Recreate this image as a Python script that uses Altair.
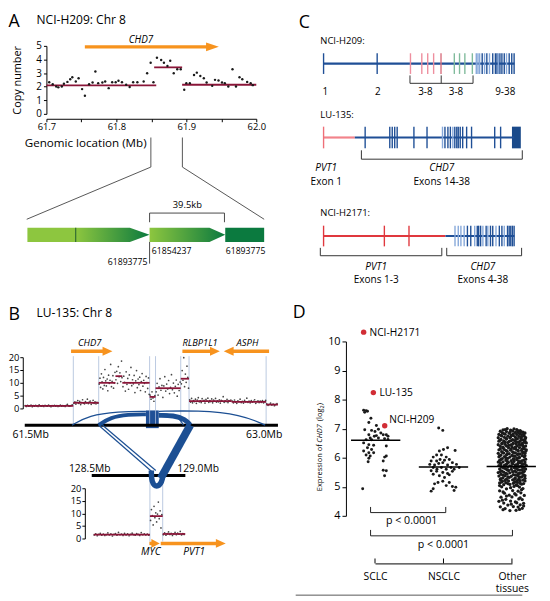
import altair as alt
import pandas as pd

FONT = "Open Sans"
W, H, M = 542, 593, 8
BLUE = "#1f4f96"
LBLUE = "#86a8da"
ORANGE = "#f7931e"
MAROON = "#8a1538"
RED = "#d12d35"
GUIDE = "#a9bcd9"
DOT = "#1a1a1a"

# ---------------- Panel A : NCI-H209 copy number ----------------
A_POINTS = [
    (61.704, 2.33), (61.709, 2.18), (61.714, 2.01), (61.717, 1.95), (61.722, 2.01),
    (61.725, 2.21), (61.730, 2.35), (61.734, 2.55), (61.737, 2.69), (61.742, 2.38),
    (61.746, 2.62), (61.751, 1.82), (61.755, 1.33), (61.761, 2.18), (61.766, 2.31),
    (61.770, 3.11), (61.774, 2.26), (61.780, 2.31), (61.784, 2.38), (61.789, 1.89),
    (61.794, 2.33), (61.799, 2.33), (61.803, 2.43), (61.808, 2.33), (61.814, 2.14),
    (61.819, 1.97), (61.824, 2.33), (61.830, 2.33), (61.839, 2.38), (61.844, 2.99),
    (61.849, 3.76), (61.853, 2.33), (61.858, 4.13), (61.864, 3.96), (61.868, 3.76),
    (61.873, 3.52), (61.877, 3.91), (61.882, 2.99), (61.887, 3.28), (61.892, 3.28),
    (61.897, 1.77), (61.900, 2.26), (61.905, 2.26), (61.911, 2.86), (61.915, 3.03),
    (61.920, 2.79), (61.925, 2.62), (61.929, 2.31), (61.937, 2.06), (61.941, 2.50),
    (61.946, 2.45), (61.951, 2.31), (61.955, 2.26), (61.960, 2.01), (61.966, 3.28),
    (61.971, 2.01), (61.976, 2.69), (61.980, 2.55), (61.987, 2.35), (61.992, 2.26),
    (61.995, 2.11),
]
A_SEGMENTS = [(61.700, 61.857, 2.09), (61.854, 61.894, 3.42), (61.894, 62.000, 2.14)]
A_XTICKS = [61.7, 61.75, 61.8, 61.85, 61.9, 61.95, 62.0]
A_YTICKS = [0, 1, 2, 3, 4, 5]

# ---------------- Panel B : LU-135 copy number ----------------
B_TOP_POINTS = [
    (61.490, 1.1), (61.498, 0.8), (61.505, 1.2), (61.512, 0.9), (61.520, 1.0), (61.527, 1.3),
    (61.535, 0.7), (61.541, 1.1), (61.549, 0.9), (61.556, 1.2), (61.563, 1.0), (61.571, 0.8),
    (61.578, 1.4), (61.585, 1.0), (61.593, 0.9), (61.600, 1.1), (61.607, 0.8), (61.615, 1.2),
    (61.622, 1.0), (61.630, 0.9), (61.637, 1.3), (61.644, 1.0), (61.652, 0.7), (61.659, 1.1),
    (61.667, 1.0), (61.674, 1.2), (61.681, 0.9), (61.689, 1.1), (61.696, 0.8), (61.704, 1.0),
    (61.711, 1.3), (61.718, 0.9), (61.726, 1.1), (61.733, 1.0), (61.741, 0.8), (61.748, 1.2),
    (61.755, 1.6), (61.763, 1.0), (61.770, 0.9), (61.778, 1.1), (61.785, 1.4),
    (61.796, 2.0), (61.802, 2.6), (61.808, 1.7), (61.814, 2.4), (61.820, 3.1), (61.826, 2.0),
    (61.832, 2.8), (61.838, 1.5), (61.844, 2.3), (61.850, 3.4), (61.856, 2.1), (61.862, 1.8),
    (61.868, 2.7), (61.874, 2.2), (61.880, 3.6), (61.886, 1.9), (61.892, 2.5), (61.898, 2.9),
    (61.904, 1.6), (61.910, 2.3), (61.916, 3.2), (61.922, 2.0), (61.928, 2.6), (61.934, 1.8),
    (61.940, 2.4), (61.946, 2.1),
    (61.954, 9.5), (61.959, 11.8), (61.963, 8.2), (61.968, 13.5), (61.972, 10.4), (61.977, 7.6),
    (61.981, 12.1), (61.986, 9.0), (61.990, 15.2), (61.995, 10.8), (61.999, 8.8), (62.004, 11.5),
    (62.008, 6.9), (62.013, 13.0), (62.017, 9.8), (62.022, 11.0), (62.026, 17.2), (62.031, 8.5),
    (62.035, 10.6), (62.040, 12.8), (62.044, 7.9), (62.049, 9.9), (62.053, 14.1),
    (62.059, 11.2), (62.064, 14.5), (62.069, 9.8), (62.074, 16.3), (62.079, 12.4), (62.084, 13.9),
    (62.089, 10.5), (62.094, 18.5), (62.097, 12.0),
    (62.103, 8.5), (62.108, 12.6), (62.113, 10.2), (62.118, 6.8), (62.123, 14.3), (62.128, 9.4),
    (62.133, 11.7), (62.138, 7.5), (62.143, 13.1), (62.148, 10.0), (62.153, 16.0), (62.158, 8.9),
    (62.163, 11.2), (62.168, 9.6), (62.173, 12.9), (62.178, 6.2), (62.183, 10.8), (62.188, 14.8),
    (62.193, 8.1), (62.198, 11.5), (62.203, 9.3), (62.208, 12.2), (62.213, 7.0), (62.218, 10.5),
    (62.223, 13.6), (62.228, 8.7), (62.233, 11.0), (62.238, 9.8), (62.243, 6.5), (62.248, 12.5),
    (62.253, 10.1), (62.258, 7.8), (62.263, 11.9), (62.267, 5.5),
    (62.273, 5.2), (62.279, 3.6), (62.285, 6.5), (62.291, 4.1), (62.297, 2.8), (62.303, 5.0),
    (62.311, 6.5), (62.317, 9.8), (62.323, 5.2), (62.329, 8.4), (62.335, 11.6), (62.341, 7.1),
    (62.347, 9.0), (62.353, 4.3), (62.359, 8.8), (62.365, 12.4), (62.371, 6.8), (62.377, 9.5),
    (62.383, 7.6), (62.389, 10.9), (62.395, 5.8), (62.401, 8.2), (62.407, 13.2), (62.413, 7.3),
    (62.419, 9.9), (62.425, 6.1), (62.431, 8.6), (62.437, 11.1), (62.443, 4.8), (62.449, 9.4),
    (62.455, 7.0), (62.461, 10.3),
    (62.469, 9.6), (62.474, 14.8), (62.479, 11.0), (62.484, 19.8), (62.489, 8.5), (62.494, 13.4),
    (62.499, 10.2), (62.504, 16.5), (62.509, 12.1), (62.514, 7.9),
    (62.521, 3.4), (62.527, 2.5), (62.533, 3.9), (62.539, 2.2), (62.545, 3.1), (62.551, 2.7),
    (62.557, 3.6), (62.563, 2.0), (62.569, 3.3), (62.575, 4.2), (62.581, 2.6), (62.587, 3.0),
    (62.593, 2.3), (62.599, 3.8), (62.605, 2.8), (62.611, 3.2), (62.617, 2.1), (62.623, 3.5),
    (62.629, 2.9), (62.635, 4.0), (62.641, 2.4), (62.647, 3.1), (62.653, 2.7), (62.659, 3.7),
    (62.665, 2.2), (62.671, 3.3), (62.677, 2.8), (62.683, 3.9), (62.689, 2.5), (62.695, 3.0),
    (62.701, 2.6), (62.707, 3.4), (62.713, 2.1), (62.719, 3.2), (62.725, 2.9), (62.731, 4.6),
    (62.737, 2.4), (62.743, 3.0), (62.749, 2.7), (62.755, 3.5), (62.761, 2.3), (62.767, 3.1),
    (62.773, 2.8), (62.779, 3.3),
    (62.788, 2.9), (62.795, 2.2), (62.802, 3.3), (62.809, 2.5), (62.816, 2.0), (62.823, 3.0),
    (62.830, 2.7), (62.837, 3.6), (62.844, 2.3), (62.851, 2.8), (62.858, 2.1), (62.865, 3.2),
    (62.872, 2.6), (62.879, 4.0), (62.886, 2.4), (62.893, 2.9), (62.900, 2.2), (62.907, 3.1),
    (62.914, 2.5), (62.921, 2.8), (62.928, 3.4), (62.935, 2.0), (62.942, 2.7), (62.949, 3.0),
    (62.956, 2.3), (62.963, 2.9), (62.970, 2.4), (62.977, 3.1), (62.984, 2.2), (62.991, 2.7),
    (62.997, 3.2),
    (63.004, 1.8), (63.012, 1.2), (63.020, 1.6), (63.028, 2.1), (63.036, 1.3), (63.044, 1.7),
    (63.052, 1.1), (63.060, 1.5), (63.068, 1.9),
]
B_TOP_SEGMENTS = [
    (61.488, 61.792, 1.0), (61.792, 61.951, 2.2), (61.951, 62.056, 10.0), (62.056, 62.099, 12.6),
    (62.099, 62.270, 10.0), (62.270, 62.307, 4.5), (62.307, 62.465, 7.9), (62.465, 62.517, 11.6),
    (62.517, 62.784, 2.9), (62.784, 63.000, 2.6), (63.000, 63.074, 1.5),
]
B_TOP_BREAKS = [61.792, 61.951, 62.270, 62.307, 62.465, 62.517, 63.000]

B_BOT_POINTS = [
    (128.525, 1.4), (128.532, 1.8), (128.539, 1.1), (128.546, 1.6), (128.553, 2.0), (128.560, 1.3),
    (128.567, 1.7), (128.574, 1.2), (128.581, 1.5), (128.588, 2.2), (128.595, 1.4), (128.602, 1.8),
    (128.609, 1.0), (128.616, 1.6), (128.623, 1.9), (128.630, 1.3), (128.637, 2.4), (128.644, 1.5),
    (128.651, 1.7), (128.658, 1.2), (128.665, 2.0), (128.672, 1.4), (128.679, 1.8), (128.686, 1.1),
    (128.693, 1.6), (128.700, 2.1), (128.707, 1.5), (128.714, 1.3), (128.721, 1.9), (128.728, 1.6),
    (128.735, 1.2), (128.742, 2.3), (128.749, 1.5), (128.756, 1.8), (128.763, 1.4), (128.770, 1.7),
    (128.777, 1.3),
    (128.785, 7.2), (128.789, 11.5), (128.793, 9.1), (128.797, 5.4), (128.801, 12.8), (128.805, 8.3),
    (128.809, 10.2), (128.813, 6.6), (128.817, 9.7), (128.821, 14.5), (128.825, 7.9), (128.829, 11.0),
    (128.833, 4.2), (128.837, 9.5),
    (128.844, 1.5), (128.850, 2.2), (128.856, 1.3), (128.862, 1.9), (128.868, 2.6), (128.874, 1.6),
    (128.880, 2.0), (128.886, 1.2), (128.892, 1.8), (128.898, 2.4), (128.904, 1.5), (128.910, 2.1),
    (128.916, 1.7), (128.922, 2.8), (128.928, 1.4), (128.934, 1.9), (128.940, 1.6),
]
B_BOT_SEGMENTS = [(128.523, 128.782, 1.5), (128.782, 128.841, 8.9), (128.841, 128.945, 1.8)]
B_BOT_BREAKS = [128.782, 128.841]
B_YTICKS = [0, 5, 10, 15, 20]

# ---------------- Panel C : exon structures (page x of each exon) ----------------
C_TRACK_Y = {"H209": (49.5, 70.5), "LU135": (124, 146), "H2171": (224.5, 245.5)}
C_EXONS = [
    ("H209", 328.3, BLUE), ("H209", 382.7, BLUE),
    ("H209", 416.5, "#ee8e9e"), ("H209", 428.0, "#ee8e9e"), ("H209", 434.0, "#ee8e9e"),
    ("H209", 440.0, "#ee8e9e"), ("H209", 447.5, "#d8707f"),
    ("H209", 461.0, "#80bb9c"), ("H209", 466.3, "#80bb9c"), ("H209", 471.7, "#80bb9c"),
    ("H209", 479.3, "#80bb9c"),
    ("H209", 483.3, LBLUE), ("H209", 485.0, LBLUE), ("H209", 486.7, LBLUE), ("H209", 489.3, BLUE),
    ("H209", 491.7, LBLUE), ("H209", 494.0, BLUE), ("H209", 496.7, LBLUE), ("H209", 500.0, BLUE),
    ("H209", 502.7, BLUE), ("H209", 504.3, BLUE), ("H209", 505.7, LBLUE), ("H209", 507.3, BLUE),
    ("H209", 509.3, BLUE), ("H209", 511.7, BLUE), ("H209", 514.0, LBLUE), ("H209", 516.7, BLUE),
    ("H209", 519.3, BLUE), ("H209", 521.7, BLUE),
    ("LU135", 328.3, "#ee6f78"),
    ("LU135", 370.5, BLUE), ("LU135", 395.5, BLUE), ("LU135", 398.0, BLUE), ("LU135", 400.5, BLUE),
    ("LU135", 403.0, BLUE), ("LU135", 420.0, BLUE), ("LU135", 433.3, BLUE), ("LU135", 449.0, LBLUE),
    ("LU135", 451.5, BLUE), ("LU135", 454.5, BLUE), ("LU135", 457.0, BLUE), ("LU135", 459.5, LBLUE),
    ("LU135", 461.5, BLUE), ("LU135", 463.5, BLUE), ("LU135", 465.0, BLUE), ("LU135", 467.0, BLUE),
    ("LU135", 469.5, BLUE), ("LU135", 473.5, BLUE), ("LU135", 478.5, BLUE), ("LU135", 502.0, BLUE),
    ("LU135", 508.0, BLUE),
    ("H2171", 328.3, "#e0383e"), ("H2171", 390.0, "#e0383e"), ("H2171", 415.0, "#e0383e"),
    ("H2171", 461.7, LBLUE), ("H2171", 465.0, LBLUE), ("H2171", 467.7, LBLUE), ("H2171", 471.0, LBLUE),
    ("H2171", 474.3, BLUE), ("H2171", 477.7, BLUE), ("H2171", 481.7, LBLUE), ("H2171", 484.3, BLUE),
    ("H2171", 485.7, BLUE), ("H2171", 487.7, BLUE), ("H2171", 490.0, LBLUE), ("H2171", 493.3, BLUE),
    ("H2171", 495.0, LBLUE), ("H2171", 497.7, BLUE), ("H2171", 500.0, BLUE), ("H2171", 503.3, LBLUE),
    ("H2171", 506.7, BLUE), ("H2171", 509.3, BLUE), ("H2171", 511.7, LBLUE), ("H2171", 515.0, BLUE),
    ("H2171", 516.7, BLUE), ("H2171", 518.3, BLUE), ("H2171", 520.0, BLUE), ("H2171", 521.7, BLUE),
]

# ---------------- Panel D : CHD7 expression ----------------
D_GROUPS = ["SCLC", "NSCLC", "Other tissues"]
D_SCLC = [
    (-0.166, 7.63), (-0.13, 7.62), (-0.15, 7.56), (-0.11, 7.60), (-0.06, 7.36), (-0.09, 7.21),
    (0.02, 7.11), (-0.15, 6.96), (-0.05, 6.94), (0.0, 6.90), (0.05, 6.98), (0.085, 6.85),
    (0.12, 6.79), (0.165, 6.79), (0.19, 6.74), (-0.09, 6.79), (-0.07, 6.68), (-0.01, 6.74),
    (0.02, 6.76), (0.05, 6.68), (-0.13, 6.62), (-0.05, 6.62), (0.14, 6.65), (0.19, 6.63),
    (-0.166, 6.51), (-0.09, 6.45), (-0.02, 6.43), (-0.11, 6.34), (-0.05, 6.28), (0.165, 6.40),
    (-0.166, 6.23), (-0.09, 6.17), (-0.02, 6.17), (-0.13, 6.09), (-0.07, 6.06), (-0.09, 5.98),
    (-0.10, 5.86), (0.14, 6.02), (0.165, 6.06), (0.12, 5.89), (0.12, 5.57), (0.165, 5.55),
    (0.14, 5.38), (-0.18, 4.93),
]
D_NSCLC = [
    (-0.07, 7.02), (-0.01, 6.94), (0.06, 6.34), (0.0, 6.28), (-0.06, 6.23), (0.17, 6.25),
    (-0.10, 6.09), (-0.03, 6.09), (0.04, 6.02), (-0.15, 6.02), (-0.18, 5.89), (-0.10, 5.89),
    (-0.05, 5.94), (0.015, 5.91), (0.085, 5.94), (-0.20, 5.77), (-0.13, 5.75), (-0.07, 5.80),
    (-0.01, 5.83), (0.06, 5.75), (0.13, 5.83), (0.19, 5.77), (-0.15, 5.66), (-0.095, 5.60),
    (-0.03, 5.66), (0.04, 5.60), (0.11, 5.66), (0.155, 5.60), (0.23, 5.66), (-0.18, 5.55),
    (-0.10, 5.53), (-0.01, 5.49), (0.06, 5.46), (0.13, 5.53), (-0.15, 5.43), (-0.06, 5.38),
    (0.085, 5.41), (0.015, 5.32), (-0.08, 5.15), (-0.01, 5.19), (0.085, 5.15), (-0.13, 5.10),
    (0.04, 5.04), (0.13, 5.01), (-0.15, 4.93), (-0.18, 4.85), (0.155, 4.87), (0.18, 4.98),
]
D_OTHER = [
    (-0.07, 7.00), (0.03, 6.99), (-0.13, 6.96), (-0.02, 6.95), (0.07, 6.97), (0.12, 6.93),
    (-0.17, 6.91), (-0.08, 6.90), (0.01, 6.92), (0.09, 6.89), (0.16, 6.88),
    (-0.14, 6.86), (-0.04, 6.84), (0.05, 6.87), (0.11, 6.83), (0.19, 6.85),
    (-0.19, 6.80), (-0.10, 6.81), (-0.01, 6.78), (0.07, 6.80), (0.14, 6.79),
    (-0.15, 6.75), (-0.06, 6.74), (0.02, 6.76), (0.10, 6.73), (0.18, 6.74),
    (-0.20, 6.69), (-0.11, 6.70), (-0.03, 6.68), (0.05, 6.71), (0.13, 6.67), (0.20, 6.69),
    (-0.16, 6.63), (-0.08, 6.64), (0.01, 6.62), (0.08, 6.65), (0.16, 6.61),
    (-0.19, 6.57), (-0.12, 6.58), (-0.04, 6.56), (0.04, 6.59), (0.11, 6.55), (0.19, 6.57),
    (-0.14, 6.51), (-0.06, 6.52), (0.02, 6.50), (0.09, 6.53), (0.15, 6.49), (0.21, 6.51),
    (-0.20, 6.45), (-0.10, 6.46), (-0.02, 6.44), (0.06, 6.47), (0.13, 6.43),
    (-0.17, 6.39), (-0.08, 6.40), (0.00, 6.38), (0.08, 6.41), (0.17, 6.37), (0.20, 6.40),
    (-0.13, 6.33), (-0.05, 6.34), (0.03, 6.32), (0.11, 6.35), (0.18, 6.31),
    (-0.19, 6.27), (-0.11, 6.28), (-0.02, 6.26), (0.06, 6.29), (0.14, 6.25), (0.21, 6.27),
    (-0.15, 6.21), (-0.07, 6.22), (0.01, 6.20), (0.09, 6.23), (0.16, 6.19),
    (-0.20, 6.15), (-0.12, 6.16), (-0.04, 6.14), (0.05, 6.17), (0.12, 6.13), (0.19, 6.15),
    (-0.16, 6.09), (-0.08, 6.10), (0.00, 6.08), (0.08, 6.11), (0.15, 6.07),
    (-0.19, 6.03), (-0.11, 6.04), (-0.03, 6.02), (0.04, 6.05), (0.11, 6.01), (0.18, 6.03),
    (-0.14, 5.97), (-0.06, 5.98), (0.02, 5.96), (0.10, 5.99), (0.20, 5.95),
    (-0.18, 5.91), (-0.09, 5.92), (-0.01, 5.90), (0.07, 5.93), (0.14, 5.89),
    (-0.20, 5.85), (-0.13, 5.86), (-0.05, 5.84), (0.03, 5.87), (0.12, 5.83), (0.19, 5.85),
    (-0.16, 5.79), (-0.07, 5.80), (0.01, 5.78), (0.09, 5.81), (0.16, 5.77),
    (-0.19, 5.73), (-0.11, 5.74), (-0.03, 5.72), (0.05, 5.75), (0.13, 5.71), (0.21, 5.73),
    (-0.14, 5.67), (-0.06, 5.68), (0.03, 5.66), (0.10, 5.69), (0.17, 5.65),
    (-0.18, 5.61), (-0.09, 5.62), (-0.01, 5.60), (0.07, 5.63), (0.15, 5.59), (0.20, 5.61),
    (-0.15, 5.55), (-0.05, 5.56), (0.04, 5.54), (0.12, 5.57), (0.18, 5.53),
    (-0.20, 5.49), (-0.12, 5.50), (-0.03, 5.48), (0.06, 5.51), (0.14, 5.47),
    (-0.16, 5.43), (-0.07, 5.44), (0.02, 5.42), (0.09, 5.45), (0.17, 5.41),
    (-0.19, 5.37), (-0.10, 5.38), (-0.01, 5.36), (0.08, 5.39), (0.15, 5.35),
    (-0.13, 5.31), (-0.04, 5.32), (0.05, 5.30), (0.13, 5.33), (0.19, 5.29),
    (-0.17, 5.25), (-0.08, 5.26), (0.01, 5.24), (0.10, 5.27), (0.16, 5.23),
    (-0.14, 5.19), (-0.05, 5.20), (0.04, 5.18), (0.12, 5.21),
    (-0.18, 5.13), (-0.09, 5.14), (0.02, 5.12), (0.08, 5.15), (0.17, 5.11),
    (-0.12, 5.07), (-0.03, 5.08), (0.06, 5.06), (0.14, 5.09),
    (-0.15, 5.00), (0.03, 5.01), (0.11, 4.99), (-0.08, 4.93), (0.16, 4.94),
    (-0.18, 4.86), (0.01, 4.87), (0.09, 4.85), (-0.11, 4.78), (0.13, 4.79),
    (-0.04, 4.71), (0.06, 4.72), (0.18, 4.70), (-0.16, 4.64), (0.00, 4.65),
    (-0.09, 4.57), (0.10, 4.58), (0.15, 4.56), (-0.19, 4.50), (-0.02, 4.51),
    (-0.12, 4.44), (0.07, 4.45), (0.17, 4.43), (-0.06, 4.37), (0.12, 4.38),
    (-0.17, 4.31), (0.02, 4.32), (0.09, 4.30), (-0.10, 4.25), (0.15, 4.26),
    (-0.03, 4.18), (0.06, 4.19),
    (-0.10, 6.97), (0.08, 6.94), (-0.03, 6.88), (0.13, 6.90), (-0.12, 6.83), (0.02, 6.82),
    (0.17, 6.81), (-0.16, 6.77), (-0.02, 6.72), (0.14, 6.72), (-0.08, 6.66), (0.06, 6.66),
    (0.19, 6.63), (-0.18, 6.60), (-0.01, 6.59), (0.13, 6.60), (-0.10, 6.54), (0.06, 6.55),
    (0.18, 6.53), (-0.15, 6.48), (0.01, 6.47), (0.11, 6.46), (-0.05, 6.42), (0.16, 6.42),
    (-0.13, 6.36), (0.05, 6.36), (-0.17, 6.30), (-0.01, 6.30), (0.15, 6.30), (-0.08, 6.24),
    (0.09, 6.25), (0.20, 6.22), (-0.14, 6.18), (0.02, 6.18), (0.16, 6.16), (-0.07, 6.12),
    (0.10, 6.12), (-0.18, 6.06), (0.02, 6.06), (0.19, 6.07), (-0.09, 6.00), (0.07, 5.99),
    (-0.16, 5.94), (0.03, 5.94), (0.17, 5.92), (-0.07, 5.88), (0.10, 5.87), (-0.17, 5.82),
    (0.00, 5.82), (0.15, 5.80), (-0.09, 5.76), (0.08, 5.76), (0.19, 5.78), (-0.16, 5.70),
    (-0.01, 5.70), (0.15, 5.68), (-0.11, 5.64), (0.05, 5.64), (0.18, 5.64), (-0.07, 5.58),
    (0.09, 5.58), (-0.17, 5.52), (0.01, 5.52), (0.16, 5.50), (-0.09, 5.46), (0.11, 5.46),
    (-0.13, 5.40), (0.05, 5.40), (0.19, 5.38), (-0.06, 5.34), (0.10, 5.35), (-0.16, 5.28),
    (0.04, 5.28), (-0.10, 5.22), (0.08, 5.22), (0.19, 5.20), (-0.15, 5.16), (0.05, 5.16),
    (-0.06, 5.11), (0.12, 5.12), (-0.18, 5.04), (0.08, 5.04), (-0.02, 4.97), (0.14, 4.90),
    (-0.13, 4.82), (0.04, 4.76), (-0.08, 4.68), (0.12, 4.62), (-0.14, 4.54), (0.05, 4.48),
    (-0.01, 4.40), (0.17, 4.34), (-0.13, 4.21), (0.11, 4.22),
]
D_MEDIANS = [(-0.35, 0.37, 6.60), (0.64, 1.36, 5.68), (1.63, 2.35, 5.70)]
D_HIGHLIGHT = [("NCI-H2171", -0.166, 10.32), ("LU-135", -0.024, 8.24), ("NCI-H209", 0.142, 7.10)]
D_YTICKS = [4, 5, 6, 7, 8, 9, 10]

# ---------------- Figure-level drawing (page pixel layout) ----------------
FIG_RULES = [  # x, y, x2, y2, colour, width
    (153, 135, 153, 165, "#555", 1), (153, 165, 27, 218, "#555", 1),
    (185, 135, 185, 165, "#555", 1), (185, 165, 268, 218, "#555", 1),
    (151.7, 211.7, 227.7, 211.7, "#333", 0.9), (151.7, 211.7, 151.7, 221, "#333", 0.9),
    (227.7, 211.7, 227.7, 221, "#333", 0.9), (151.7, 241, 151.7, 263, "#333", 0.9),
    (76.7, 226.7, 76.7, 241, "#2e6b2e", 1.2),
    (25, 427, 282, 427, "black", 3), (93, 478, 188, 478, "black", 3),
    (86, 43, 211, 43, ORANGE, 3.5), (72, 352, 105, 352, ORANGE, 3.5),
    (185, 352, 214, 352, ORANGE, 3.5), (236, 352, 273, 352, ORANGE, 3.5),
    (151.5, 547, 154.5, 547, ORANGE, 3.5), (163, 547, 220, 547, ORANGE, 3.5),
    (328, 60, 522, 60, BLUE, 2.2),
    (328, 135, 360, 135, "#f2838b", 2.2), (360, 135, 522, 135, BLUE, 2.2),
    (328, 235, 452, 235, "#e0383e", 2.2), (452, 235, 522, 235, BLUE, 2.2),
    (416, 80, 480, 80, "#333", 1), (416, 72, 416, 80, "#333", 1),
    (447.7, 72, 447.7, 80, "#333", 1), (480, 72, 480, 80, "#333", 1),
    (366.7, 157, 530, 157, "#333", 1), (366.7, 148, 366.7, 157, "#333", 1), (530, 148, 530, 157, "#333", 1),
    (325, 255, 448.3, 255, "#333", 1), (325, 247, 325, 255, "#333", 1), (448.3, 247, 448.3, 255, "#333", 1),
    (453.3, 255, 529.3, 255, "#333", 1), (453.3, 247, 453.3, 255, "#333", 1), (529.3, 247, 529.3, 255, "#333", 1),
    (376, 515.7, 452.3, 515.7, "#222", 1), (376, 510, 376, 515.7, "#222", 1), (452.3, 510, 452.3, 515.7, "#222", 1),
    (376, 539.3, 520, 539.3, "#222", 1), (376, 533.3, 376, 539.3, "#222", 1), (520, 533.3, 520, 539.3, "#222", 1),
    (380.5, 562.3, 380.5, 567.3, "black", 1), (450, 562.3, 450, 567.3, "black", 1),
    (519.5, 562.3, 519.5, 567.3, "black", 1),
    (300, 599.5, 530, 599.5, "#555", 1),
]
FIG_RECTS = [  # x, y, x2, y2, colour
    (27.7, 226.7, 76.7, 241, "#8dc63f"), (228.5, 226.7, 268, 241, "#0b7a3f"),
    (148, 412, 161, 430, BLUE), (519.5, 124, 528.5, 146, "#1a4a8a"),
]
GREEN_ARROWS = [  # id, x, top, bottom
    ("g1", 76.7, 226.7, 241), ("g1", 131.7, 226.7, 241), ("g1", 151.7, 233.8, 233.8),
    ("g2", 151.7, 226.7, 241), ("g2", 212.5, 226.7, 241), ("g2", 228.5, 233.8, 233.8),
]
ORANGE_HEADS = [
    ("a", 209, 38.5, 47.5), ("a", 222, 43, 43),
    ("b1", 104, 347.5, 356.5), ("b1", 114, 352, 352),
    ("b2", 213, 347.5, 356.5), ("b2", 223, 352, 352),
    ("b3", 227, 352, 352), ("b3", 237, 347.5, 356.5),
    ("b4", 153.5, 542.5, 551.5), ("b4", 162, 547, 547),
    ("b5", 219, 542.5, 551.5), ("b5", 229, 547, 547),
]
ARCS = [  # id, width, [(x, y) ...]
    ("thinL", 1.3, [(73, 427), (90, 417), (120, 413), (148, 413)]),
    ("thickL", 4.0, [(100, 427), (112, 419), (130, 416), (148, 416)]),
    ("thinR", 1.3, [(161, 413), (200, 412), (245, 416), (269, 427)]),
    ("thickR", 5.0, [(161, 417), (176, 417), (188, 421), (193, 427)]),
    ("thinR2", 1.2, [(161, 415), (174, 416), (183, 421), (186, 427)]),
    ("down1", 1.2, [(100, 427), (155, 475)]),
    ("down2", 1.2, [(104, 427), (158, 473)]),
    ("down3", 8.0, [(193, 427), (163, 481)]),
    ("loop", 5.5, [(153.5, 473), (153.5, 485), (159, 490.5), (164.5, 485), (165, 477)]),
]
TEXTS = [  # x, y, text, size, align, italic, angle
    (8.5, 18, "A", 18, "left", False, 0),
    (37, 16, "NCI-H209: Chr 8", 12.2, "left", False, 0),
    (143, 36.5, "CHD7", 10, "center", True, 0),
    (18, 77, "Copy number", 11, "center", False, 270),
    (25, 141, "Genomic location (Mb)", 11.8, "left", False, 0),
    (190, 203.5, "39.5kb", 9.5, "center", False, 0),
    (154, 250, "61854237", 8.8, "left", False, 0),
    (229, 250, "61893775", 8.8, "left", False, 0),
    (149.5, 261.7, "61893775", 8.8, "right", False, 0),
    (8.5, 315, "B", 18, "left", False, 0),
    (37, 313.5, "LU-135: Chr 8", 12.2, "left", False, 0),
    (91, 343.5, "CHD7", 9.6, "center", True, 0),
    (203, 343.5, "RLBP1L1", 9.4, "center", True, 0),
    (251, 343.5, "ASPH", 9.6, "center", True, 0),
    (31, 436.7, "61.5Mb", 10.6, "center", False, 0),
    (268, 436.7, "63.0Mb", 10.6, "center", False, 0),
    (91, 471.5, "128.5Mb", 10.4, "center", False, 0),
    (201, 471.5, "129.0Mb", 10.4, "center", False, 0),
    (153, 556, "MYC", 10.3, "center", True, 0),
    (197, 556, "PVT1", 10.3, "center", True, 0),
    (303, 19, "C", 18, "left", False, 0),
    (325, 37.5, "NCI-H209:", 9.6, "left", False, 0),
    (330, 88.7, "1", 10, "center", False, 0),
    (383.3, 88.7, "2", 10, "center", False, 0),
    (431.7, 88.7, "3-8", 10, "center", False, 0),
    (462.7, 88.7, "3-8", 10, "center", False, 0),
    (512.7, 88.7, "9-38", 10, "center", False, 0),
    (325, 112, "LU-135:", 9.6, "left", False, 0),
    (331, 166.5, "PVT1", 10.2, "center", True, 0),
    (331, 180, "Exon 1", 10.2, "center", False, 0),
    (448.3, 166.5, "CHD7", 10.2, "center", True, 0),
    (448.3, 180, "Exons 14-38", 10.2, "center", False, 0),
    (325, 211.7, "NCI-H2171:", 9.6, "left", False, 0),
    (381.7, 266, "PVT1", 10.2, "center", True, 0),
    (381.7, 279.5, "Exons 1-3", 10.2, "center", False, 0),
    (490, 266, "CHD7", 10.2, "center", True, 0),
    (490, 279.5, "Exons 4-38", 10.2, "center", False, 0),
    (297, 313, "D", 18, "left", False, 0),
    (375, 333, "NCI-H2171", 10.3, "left", False, 0),
    (385, 394, "LU-135", 10.3, "left", False, 0),
    (395, 421.5, "NCI-H209", 10.3, "left", False, 0),
    (417.7, 524, "p < 0.0001", 10.8, "center", False, 0),
    (450, 548.5, "p < 0.0001", 10.8, "center", False, 0),
    (325, 494, "Expression of", 7.6, "left", False, 270),
    (325, 444.8, "CHD7", 7.6, "left", True, 270),
    (325, 422.9, "(log", 7.6, "left", False, 270),
    (327.2, 410.0, "2", 5.6, "left", False, 270),
    (325, 406.8, ")", 7.6, "left", False, 270),
]


def sc(domain, p0, p1):
    return alt.Scale(domain=domain, range=[p0 - M, p1 - M], nice=False, zero=False)


FX, FY = sc([0, 550], 0, 550), sc([0, 601], 0, 601)
AX = dict(labelFont=FONT, domainColor="black", tickColor="black", labelColor="black",
          grid=False, title=None, labelOverlap=False, labelFlush=False, labelBound=False,
          domainWidth=1, tickWidth=1)


def fx(f):
    return alt.X(f, scale=FX, axis=None)


def fy(f):
    return alt.Y(f, scale=FY, axis=None)


layers = []

# ---- background drawing ----
layers.append(alt.Chart(pd.DataFrame(FIG_RECTS, columns=["x", "y", "x2", "y2", "c"])).mark_rect().encode(
    x=fx("x:Q"), y=fy("y:Q"), x2="x2:Q", y2="y2:Q", color=alt.Color("c:N", scale=None)))
layers.append(alt.Chart(pd.DataFrame(GREEN_ARROWS, columns=["id", "x", "y", "y2"])).mark_area(
    color=alt.LinearGradient(gradient="linear", x1=0, x2=1, y1=0, y2=0,
                             stops=[alt.GradientStop(color="#8dc63f", offset=0),
                                    alt.GradientStop(color="#0b7a3f", offset=1)])).encode(
    x=fx("x:Q"), y=fy("y:Q"), y2="y2:Q", detail="id:N"))
layers.append(alt.Chart(pd.DataFrame(ORANGE_HEADS, columns=["id", "x", "y", "y2"])).mark_area(
    color=ORANGE).encode(x=fx("x:Q"), y=fy("y:Q"), y2="y2:Q", detail="id:N"))

# ---- Panel B top ----
bx, by = sc([61.5, 63.0], 27, 270), sc([0, 20], 410, 358)
layers.append(alt.Chart(pd.DataFrame({"x": B_TOP_BREAKS, "y": 20.4, "y2": -6.2})).mark_rule(
    color=GUIDE, strokeWidth=0.8).encode(
    x=alt.X("x:Q", scale=bx, axis=None), y=alt.Y("y:Q", scale=by, axis=None), y2="y2:Q"))
layers.append(alt.Chart(pd.DataFrame(B_TOP_POINTS, columns=["mb", "cn"])).mark_circle(
    size=3, color="#333", opacity=0.9).encode(
    x=alt.X("mb:Q", scale=bx, axis=None),
    y=alt.Y("cn:Q", scale=by, axis=alt.Axis(
        orient="left", offset=-(23 - M), values=B_YTICKS, tickSize=3, labelFontSize=9.5,
        labelPadding=1, **AX))))
layers.append(alt.Chart(pd.DataFrame(B_TOP_SEGMENTS, columns=["x0", "x1", "cn"])).mark_rule(
    color=MAROON, strokeWidth=1.8).encode(
    x=alt.X("x0:Q", scale=bx, axis=None), x2="x1:Q", y=alt.Y("cn:Q", scale=by, axis=None)))

# ---- Panel B bottom ----
bx2, by2 = sc([128.5, 129.0], 90, 200), sc([0, 20], 542, 491)
layers.append(alt.Chart(pd.DataFrame({"x": B_BOT_BREAKS, "y": 25.0, "y2": -1.2})).mark_rule(
    color=GUIDE, strokeWidth=0.8).encode(
    x=alt.X("x:Q", scale=bx2, axis=None), y=alt.Y("y:Q", scale=by2, axis=None), y2="y2:Q"))
layers.append(alt.Chart(pd.DataFrame(B_BOT_POINTS, columns=["mb", "cn"])).mark_circle(
    size=3, color="#333", opacity=0.9).encode(
    x=alt.X("mb:Q", scale=bx2, axis=None),
    y=alt.Y("cn:Q", scale=by2, axis=alt.Axis(
        orient="left", offset=-(86 - M), values=B_YTICKS, tickSize=3, labelFontSize=9.5,
        labelPadding=1, **AX))))
layers.append(alt.Chart(pd.DataFrame(B_BOT_SEGMENTS, columns=["x0", "x1", "cn"])).mark_rule(
    color=MAROON, strokeWidth=1.8).encode(
    x=alt.X("x0:Q", scale=bx2, axis=None), x2="x1:Q", y=alt.Y("cn:Q", scale=by2, axis=None)))

# ---- figure lines, exons, arcs ----
layers.append(alt.Chart(pd.DataFrame(FIG_RULES, columns=["x", "y", "x2", "y2", "c", "w"])).mark_rule().encode(
    x=fx("x:Q"), y=fy("y:Q"), x2="x2:Q", y2="y2:Q",
    color=alt.Color("c:N", scale=None), strokeWidth=alt.StrokeWidth("w:Q", scale=None)))
ex_rows = [(x, C_TRACK_Y[t][0], C_TRACK_Y[t][1], c) for t, x, c in C_EXONS]
layers.append(alt.Chart(pd.DataFrame(ex_rows, columns=["x", "y", "y2", "c"])).mark_rule(strokeWidth=1.4).encode(
    x=fx("x:Q"), y=fy("y:Q"), y2="y2:Q", color=alt.Color("c:N", scale=None)))
arc_rows = [(aid, w, i, x, y) for aid, w, pts in ARCS for i, (x, y) in enumerate(pts)]
layers.append(alt.Chart(pd.DataFrame(arc_rows, columns=["id", "w", "i", "x", "y"])).mark_line(
    color="#1c4f93", interpolate="basis").encode(
    x=fx("x:Q"), y=fy("y:Q"), detail="id:N", order="i:Q",
    strokeWidth=alt.StrokeWidth("w:Q", scale=None)))

# ---- Panel A ----
ax_, ay_ = sc([61.7, 62.0], 47, 260), sc([0, 5], 111, 42)
layers.append(alt.Chart(pd.DataFrame(A_SEGMENTS, columns=["x0", "x1", "cn"])).mark_rule(
    color=MAROON, strokeWidth=1.8).encode(
    x=alt.X("x0:Q", scale=ax_, axis=None), x2="x1:Q", y=alt.Y("cn:Q", scale=ay_, axis=None)))
layers.append(alt.Chart(pd.DataFrame(A_POINTS, columns=["mb", "cn"])).mark_circle(
    size=6, color=DOT, opacity=1).encode(
    x=alt.X("mb:Q", scale=ax_, axis=alt.Axis(
        orient="bottom", offset=(116 - M) - H, values=A_XTICKS, tickSize=3, labelFontSize=9.5,
        labelPadding=0,
        labelExpr="round(datum.value*100) % 10 == 0 ? format(datum.value, '.1f') : ''", **AX)),
    y=alt.Y("cn:Q", scale=ay_, axis=alt.Axis(
        orient="left", offset=-(47 - M), values=A_YTICKS, tickSize=3, labelFontSize=10,
        labelPadding=2, **AX))))

# ---- Panel D ----
dx_, dy_ = sc([0, 2], 380.5, 519.5), sc([4, 10], 519, 342)
d_rows = ([(0 + d, v, 9) for d, v in D_SCLC] + [(1 + d, v, 9) for d, v in D_NSCLC]
          + [(2 + d, v, 11) for d, v in D_OTHER])
other_words = D_GROUPS[2].split()
label_expr = ("datum.value == 0 ? '%s' : datum.value == 1 ? '%s' : ['%s', '%s']"
              % (D_GROUPS[0], D_GROUPS[1], other_words[0], other_words[1]))
layers.append(alt.Chart(pd.DataFrame(d_rows, columns=["pos", "v", "s"])).mark_circle(
    color=DOT, opacity=1).encode(
    x=alt.X("pos:Q", scale=dx_, axis=alt.Axis(
        orient="bottom", offset=(567.3 - M) - H, values=[0, 1, 2], tickSize=0, labelPadding=8,
        labelFontSize=10.5, labelLineHeight=13, labelExpr=label_expr, **AX)),
    y=alt.Y("v:Q", scale=dy_, axis=alt.Axis(
        orient="left", offset=-(351 - M), values=D_YTICKS, tickSize=4, labelFontSize=11,
        labelPadding=2, **AX)),
    size=alt.Size("s:Q", scale=None)))
layers.append(alt.Chart(pd.DataFrame(D_MEDIANS, columns=["x0", "x1", "v"])).mark_rule(
    color="black", strokeWidth=1.5).encode(
    x=alt.X("x0:Q", scale=dx_, axis=None), x2="x1:Q", y=alt.Y("v:Q", scale=dy_, axis=None)))
layers.append(alt.Chart(pd.DataFrame(D_HIGHLIGHT, columns=["name", "pos", "v"])).mark_circle(
    size=30, color=RED, opacity=1).encode(
    x=alt.X("pos:Q", scale=dx_, axis=None), y=alt.Y("v:Q", scale=dy_, axis=None)))

# ---- texts ----
tdf = pd.DataFrame(TEXTS, columns=["x", "y", "t", "s", "al", "it", "a"])
for al in ["left", "center", "right"]:
    for it in [False, True]:
        sub = tdf[(tdf.al == al) & (tdf.it == it)]
        if len(sub) == 0:
            continue
        layers.append(alt.Chart(sub).mark_text(
            align=al, baseline="middle", font=FONT, fontStyle="italic" if it else "normal",
            color="black").encode(
            x=fx("x:Q"), y=fy("y:Q"), text="t:N",
            size=alt.Size("s:Q", scale=None), angle=alt.Angle("a:Q", scale=None)))

chart = alt.layer(*layers).resolve_scale(x="independent", y="independent").properties(
    width=W, height=H, autosize=alt.AutoSizeParams(type="none"), padding=0,
    background="white").configure_view(stroke=None)

chart.save("out.html", embed_options={"renderer": "svg", "actions": False})
